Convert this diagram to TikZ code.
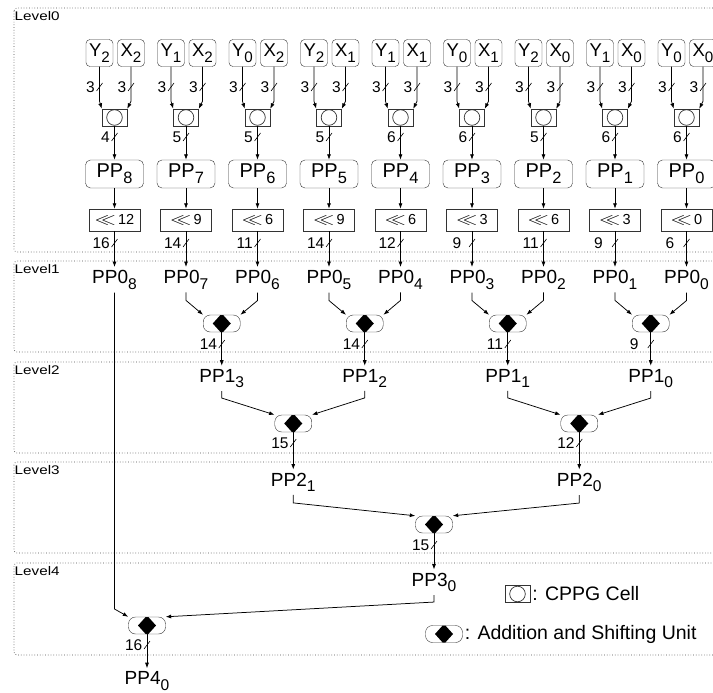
\documentclass[tikz,border=0pt]{standalone}
\usepackage{fontspec}
\setmainfont{Liberation Sans}
\usepackage{graphicx}
\usetikzlibrary{arrows.meta,positioning}

\newcommand{\sbs}[1]{\raisebox{-0.3em}{\scalebox{0.82}{#1}}}
\newcommand{\shl}{\scalebox{1.45}[1.1]{$\ll$}}

\begin{document}
\begin{tikzpicture}[x=1pt,y=-1pt,
        lvl/.style={draw=black!70, dotted, line width=0.7pt, rounded corners=3pt},
        lvltxt/.style={anchor=base west, inner sep=0pt, font=\fontsize{12.5}{13}\selectfont},
        inbox/.style={rectangle, draw=black!80, rounded corners=4pt, minimum width=27pt,
                minimum height=27pt, inner sep=0pt, font=\fontsize{18.5}{19}\selectfont},
        cppg/.style={rectangle, draw=black!80, minimum width=25pt, minimum height=17pt, inner sep=0pt,
                path picture={\draw[black!80, line width=0.7pt] (path picture bounding box.center) circle (7.8pt);}},
        ppbox/.style={rectangle, draw=black!80, rounded corners=5pt, minimum width=58pt,
                minimum height=28pt, inner sep=0pt, font=\fontsize{20}{20}\selectfont},
        shbox/.style={rectangle, draw=black!80, minimum width=51pt, minimum height=22pt,
                inner sep=0pt, font=\fontsize{14.5}{15}\selectfont},
        asu/.style={rectangle, draw=black!80, rounded corners=7pt, minimum width=37pt, minimum height=17pt, inner sep=0pt,
                path picture={\fill[sharp corners] (path picture bounding box.center) ++(0,-10) -- ++(9,10) -- ++(-9,10) -- ++(-9,-10) -- cycle;}},
        pplab/.style={anchor=base, inner sep=3pt, font=\fontsize{19}{19}\selectfont},
        wlab/.style={anchor=east, inner sep=0pt, font=\fontsize{15.5}{16}\selectfont},
        legtxt/.style={inner sep=0pt, font=\fontsize{19.5}{20}\selectfont},
        arr/.style={-{Latex[length=5.5pt,width=4pt]}, line width=0.75pt},
        pics/bus/.style 2 args={code={\draw[line width=0.6pt] (-3,4) -- (3,-4); \node[wlab] at (#2,0) {#1};}}
        ]
\path[use as bounding box, clip] (0,0) rectangle (713,693);

% level frames
\foreach \n/\tp/\bt in {0/8/252, 1/261/352, 2/362/453, 3/462/553, 4/563/655}{
        \draw[lvl] (14,\tp) rectangle (740,\bt);
        \node[lvltxt] at (14.5,\tp+12.5) {\scalebox{1.22}[1]{Level\n}};
}

% Level0: CPPG columns
\foreach \i/\yy/\xx/\cw/\pp/\sh/\ow/\od in {0/2/2/4/8/12/16/-4.5, 1/1/2/5/7/9/14/-4.5,
                2/0/2/5/6/6/11/-4.5, 3/2/1/5/5/9/14/-4.5, 4/1/1/6/4/6/12/-4.5, 5/0/1/6/3/3/9/-10.5,
                6/2/0/5/2/6/11/-4.5, 7/1/0/6/1/3/9/-12, 8/0/0/6/0/0/6/-12}{
        \pgfmathsetmacro{\cx}{114.5+71.5*\i}
        \node[inbox] (y\i) at (\cx-15,53) {Y\sbs{\yy}};
        \node[inbox] (x\i) at (\cx+16.5,53) {X\sbs{\xx}};
        \node[cppg] (c\i) at (\cx,117.5) {};
        \node[ppbox] (p\i) at (\cx,174) {PP\sbs{\pp}};
        \node[shbox] (s\i) at (\cx,220) {\shl\,\sh};
        \node[pplab] (q\i) at (\cx,283.5) {PP0\sbs{\pp}};
        \draw[arr] (y\i.south) -- ++(0,34.5) -- (c\i.north west);
        \draw[arr] (x\i.south) -- ++(0,34.5) -- (c\i.north east);
        \draw[arr] (c\i) -- (p\i);
        \draw[arr] (p\i) -- (s\i);
        \draw[arr] (s\i) -- (q\i);
        \pic at (\cx-15,87) {bus={3}{-4.5}};
        \pic at (\cx+16.5,87) {bus={3}{-4.5}};
        \pic at (\cx,137) {bus={\cw}{-4.5}};
        \pic at (\cx,243) {bus={\ow}{\od}};
}

% Level1
\foreach \k/\lf/\rt/\ax/\bw/\bo/\nn in {1/1/2/221.75/14/-4.5/3, 2/3/4/364.75/14/-4.5/2,
                3/5/6/507.75/11/-4.5/1, 4/7/8/650.75/9/-12/0}{
        \node[asu] (a\k) at (\ax,323.5) {};
        \draw[arr] (q\lf.south) -- ++(0,8) -- (a\k.north west);
        \draw[arr] (q\rt.south) -- ++(0,8) -- (a\k.north east);
        \node[pplab] (r\k) at (\ax,382) {PP1\sbs{\nn}};
        \draw[arr] (a\k) -- (r\k);
        \pic at (\ax,344) {bus={\bw}{\bo}};
}

% Level2
\foreach \k/\lf/\rt/\bx/\bw/\nn in {1/1/2/293.25/15/1, 2/3/4/579.25/12/0}{
        \node[asu] (b\k) at (\bx,423.5) {};
        \draw[arr] (r\lf.south) -- ++(0,7) -- (b\k.north west);
        \draw[arr] (r\rt.south) -- ++(0,7) -- (b\k.north east);
        \node[pplab] (t\k) at (\bx,486) {PP2\sbs{\nn}};
        \draw[arr] (b\k) -- (t\k);
        \pic at (\bx,443) {bus={\bw}{-4.5}};
}

% Level3
\node[asu] (e) at (434,524.5) {};
\draw[arr] (t1.south) -- ++(0,8) -- (e.north west);
\draw[arr] (t2.south) -- ++(0,8) -- (e.north east);
\node[pplab] (u) at (434,586) {PP3\sbs{0}};
\draw[arr] (e) -- (u);
\pic at (434,545) {bus={15}{-4.5}};

% Level4
\node[asu] (f) at (147,625.5) {};
\coordinate (bend) at (114.5,609);
\draw[arr] (q0.south) -- (bend) -- (f.north west);
\draw[arr] (u.south) -- ++(0,7) -- (f.north east);
\node[pplab] (v) at (147,684.5) {PP4\sbs{0}};
\draw[arr] (f) -- (v);
\pic at (147,645) {bus={16}{-4.5}};

% legend
\node[cppg] (lc) at (517.5,594) {};
\node[legtxt, right=2pt of lc] {: CPPG Cell};
\node[asu] (la) at (444,634) {};
\node[legtxt, right=2pt of la] {: Addition and Shifting Unit};
\end{tikzpicture}
\end{document}
